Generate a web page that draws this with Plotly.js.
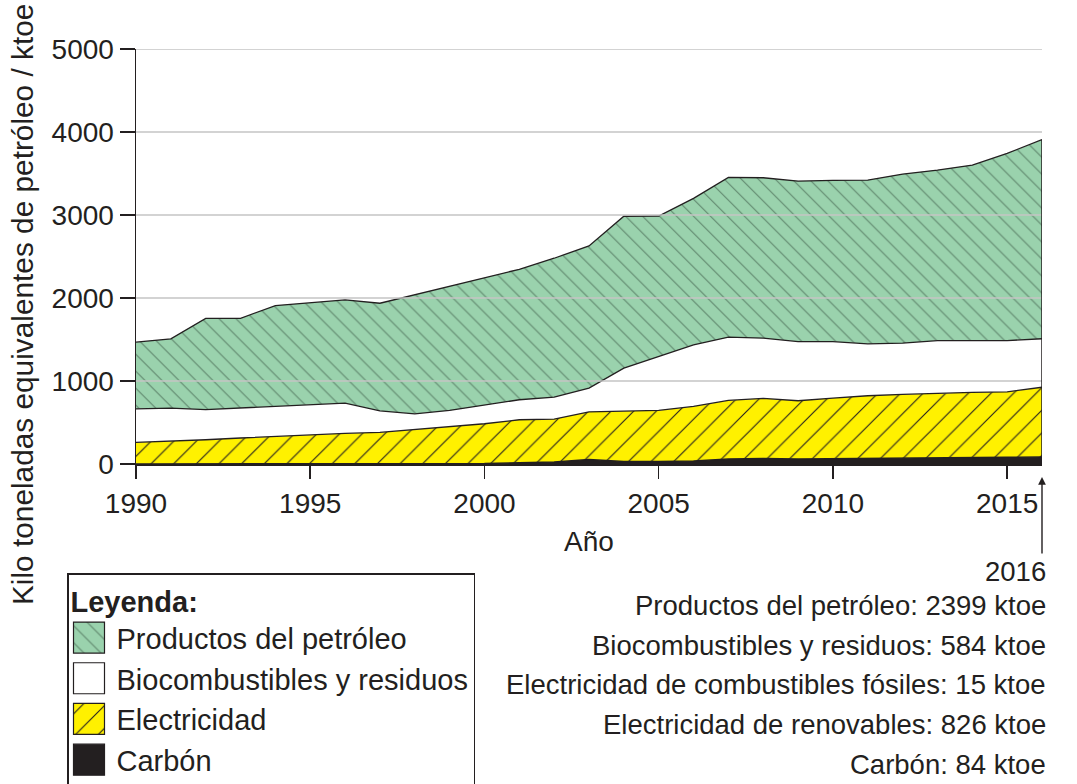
<!DOCTYPE html>
<html>
<head>
<meta charset="utf-8">
<script src="https://cdn.plot.ly/plotly-3.0.1.min.js"></script>
<style>
html,body{margin:0;padding:0;background:#fff;}
#chart{width:1077px;height:784px;}
</style>
</head>
<body>
<div id="chart"></div>
<script>
// ---- data (ktoe) ----
const years = [1990,1991,1992,1993,1994,1995,1996,1997,1998,1999,2000,2001,2002,2003,2004,2005,2006,2007,2008,2009,2010,2011,2012,2013,2014,2015,2016];
const carbon = [0,0,0,0,0,0,0,0,0,0,5,15,25,55,30,30,35,60,65,60,62,70,72,75,78,80,84];
const electricity = [260,272,292,313,332,353,368,380,413,455,480,518,516,574,607,615,658,706,725,702,732,752,766,779,784,790,841];
const biofuels = [405,402,363,361,361,361,366,261,192,190,229,241,265,285,518,650,743,762,726,713,681,626,618,633,625,617,584];
const petroleum = [803,834,1100,1081,1216,1231,1243,1296,1435,1492,1524,1572,1673,1713,1830,1693,1765,1925,1933,1934,1942,1973,2037,2054,2114,2255,2399];

const seriesNames = ['Carbón', 'Electricidad', 'Biocombustibles y residuos', 'Productos del petróleo'];
const xTicks = [1990, 1995, 2000, 2005, 2010, 2015];
const yTicks = [0, 1000, 2000, 3000, 4000, 5000];
const xTitle = 'Año';
const yTitle = 'Kilo toneladas equivalentes de petróleo / ktoe';
const legendTitle = 'Leyenda:';
const summaryYear = '2016';
const summaryLines = [
  'Productos del petróleo: 2399 ktoe',
  'Biocombustibles y residuos: 584 ktoe',
  'Electricidad de combustibles fósiles: 15 ktoe',
  'Electricidad de renovables: 826 ktoe',
  'Carbón: 84 ktoe'
];

// ---- styling ----
const FONT = 'Liberation Sans, Arial, Helvetica, sans-serif';
const INK = '#231f20';
const GREEN = '#9ad2ad';
const YELLOW = '#fff100';

const outline = {color: INK, width: 1.3, shape: 'linear'};

const traces = [
  {
    x: years, y: carbon, name: seriesNames[0], type: 'scatter', mode: 'lines',
    stackgroup: 'one', line: {color: INK, width: 1.5}, fillcolor: INK
  },
  {
    x: years, y: electricity, name: seriesNames[1], type: 'scatter', mode: 'lines',
    stackgroup: 'one', line: outline, fillcolor: YELLOW,
    fillpattern: {shape: '/', bgcolor: YELLOW, fgcolor: INK, size: 16, solidity: 0.07}
  },
  {
    x: years, y: biofuels, name: seriesNames[2], type: 'scatter', mode: 'lines',
    stackgroup: 'one', line: outline, fillcolor: '#ffffff'
  },
  {
    x: years, y: petroleum, name: seriesNames[3], type: 'scatter', mode: 'lines',
    stackgroup: 'one', line: outline, fillcolor: GREEN,
    fillpattern: {shape: '\\', bgcolor: GREEN, fgcolor: '#1f3328', fgopacity: 0.5, size: 12, solidity: 0.085}
  }
];

// totals at last year for right-edge outline
const last = years.length - 1;
const lastTotal = carbon[last] + electricity[last] + biofuels[last] + petroleum[last];

const M = {l: 136, r: 35, t: 49, b: 320, autoexpand: false};
const W = 1077, H = 784;
const pw = W - M.l - M.r, ph = H - M.t - M.b;
const px2x = px => (px - M.l) / pw;
const py2y = py => (H - M.b - py) / ph;

const shapes = yTicks.filter(v => v > 0).map(v => ({
  type: 'line', xref: 'paper', yref: 'y', x0: 0, x1: 1, y0: v, y1: v,
  line: {color: '#c4c4c4', width: 1.5}, layer: 'above'
}));
shapes.push({
  type: 'line', xref: 'x', yref: 'y', x0: years[last], x1: years[last], y0: 0, y1: lastTotal,
  line: {color: INK, width: 1.5}, layer: 'above'
});

const summaryY = [605, 645, 684, 724, 764];
const annotations = [
  {
    text: yTitle, textangle: -90, xref: 'paper', yref: 'paper',
    x: px2x(22), y: py2y(305), xanchor: 'center', yanchor: 'middle', showarrow: false,
    font: {family: FONT, size: 29.8, color: INK}
  },
  {
    text: summaryYear, xref: 'paper', yref: 'paper', x: px2x(1048), y: py2y(571),
    xanchor: 'right', yanchor: 'middle', showarrow: false,
    font: {family: FONT, size: 27.5, color: INK}
  },
  {
    text: '', xref: 'x', yref: 'y', x: years[last], y: 0, ax: 0, ay: 91,
    showarrow: true, arrowhead: 2, arrowsize: 1.1, arrowwidth: 1.4, arrowcolor: INK, standoff: 13
  }
].concat(summaryLines.map((t, i) => ({
  text: t, xref: 'paper', yref: 'paper', x: px2x(1048), y: py2y(summaryY[i]),
  xanchor: 'right', yanchor: 'middle', showarrow: false,
  font: {family: FONT, size: 27.5, color: INK}
})));

const layout = {
  width: W, height: H,
  margin: M,
  paper_bgcolor: '#ffffff', plot_bgcolor: '#ffffff',
  font: {family: FONT, size: 28, color: INK},
  showlegend: true,
  hovermode: false,
  xaxis: {
    range: [years[0], years[last]],
    tickvals: xTicks, ticktext: xTicks.map(String),
    ticks: 'outside', ticklen: 13, tickwidth: 1.5, tickcolor: INK,
    showgrid: false, zeroline: false,
    showline: true, linecolor: INK, linewidth: 2,
    tickfont: {family: FONT, size: 28, color: INK},
    title: {text: xTitle, font: {family: FONT, size: 28, color: INK}, standoff: 14},
    automargin: false
  },
  yaxis: {
    range: [0, 5000],
    tickvals: yTicks, ticktext: yTicks.map(String),
    ticks: 'outside', ticklen: 15, tickwidth: 1.5, tickcolor: INK,
    showgrid: false, zeroline: false,
    showline: true, linecolor: INK, linewidth: 1.5,
    tickfont: {family: FONT, size: 28, color: INK},
    automargin: false
  },
  legend: {
    xref: 'container', yref: 'container',
    x: 67 / W, y: 1 - 573 / H, xanchor: 'left', yanchor: 'top',
    bgcolor: '#ffffff', bordercolor: INK, borderwidth: 1.5,
    traceorder: 'reversed', itemwidth: 38, tracegroupgap: 0,
    font: {family: FONT, size: 29, color: INK},
    title: {text: '<b>' + legendTitle + '</b>', font: {family: FONT, size: 29, color: INK}}
  },
  shapes: shapes,
  annotations: annotations
};

const gd = document.getElementById('chart');
Plotly.newPlot(gd, traces, layout, {displayModeBar: false, staticPlot: true}).then(() => {
  // enlarge legend swatches to squares like the reference key
  const sq = 'M5,-15.5h31v31h-31z';
  gd.querySelectorAll('.legend .traces').forEach(item => {
    item.querySelectorAll('.legendfill path').forEach(p => p.setAttribute('d', sq));
    item.querySelectorAll('.legendlines path').forEach(p => {
      p.setAttribute('d', sq);
      p.style.fill = 'none';
      p.style.stroke = INK;
      p.style.strokeWidth = '1.2px';
    });
  });
});
</script>
</body>
</html>
